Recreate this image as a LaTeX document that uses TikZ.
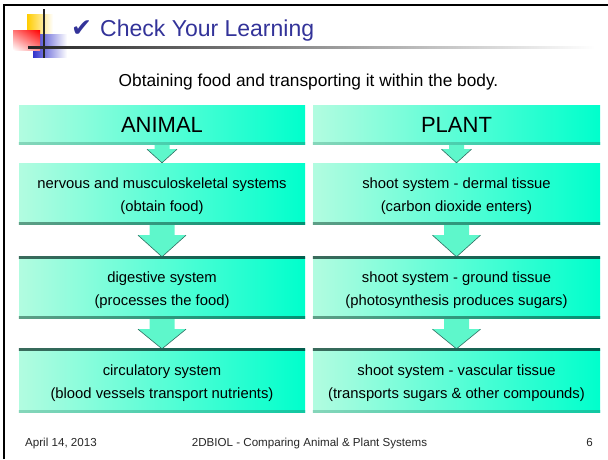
\documentclass[tikz,border=0pt]{standalone}
\usepackage{fontspec}
\setmainfont{Liberation Sans}
\newfontfamily\symfont{DejaVu Sans}
\usetikzlibrary{calc,shadings}
\definecolor{mintL}{HTML}{B2FCE0}
\definecolor{mintR}{HTML}{00FFCC}
\definecolor{edgeL}{HTML}{5E9E86}
\definecolor{edgeR}{HTML}{009274}
\definecolor{liteL}{HTML}{86D6BA}
\definecolor{liteR}{HTML}{10C8A2}
\definecolor{topL}{HTML}{3A6B5C}
\definecolor{topR}{HTML}{005E4E}
\definecolor{arrfill}{HTML}{5EF7CB}
\definecolor{arrline}{HTML}{2E6E60}
\definecolor{titleblue}{HTML}{333399}
\definecolor{logoY}{HTML}{FFCC00}
\definecolor{logoB}{HTML}{3333CC}
\newcommand\rowstrut{\rule{0pt}{16.5pt}}

\begin{document}
\begin{tikzpicture}[
  x=1pt, y=-1pt,
  box/.style={
    left color=mintL, right color=mintR,
    inner sep=0pt, align=center
  },
  head/.style={box, minimum height=39pt, font=\fontsize{22}{26}\selectfont},
  row/.style={box, font=\fontsize{14.8}{23}\selectfont},
  acol/.style={minimum width=286pt},
  pcol/.style={minimum width=287pt},
  txt/.style={inner sep=0pt},
  foot/.style={txt, anchor=base, text=black!85, font=\fontsize{11.6}{14}\selectfont},
  arr/.style={fill=arrfill},
  arredge/.style={draw=arrline, line width=0.6pt}
]
  \useasboundingbox (0,0) rectangle (608,459);
  \draw[line width=2pt] (4,459) -- (4,5) -- (608,5);

  \shade[left color=logoY, middle color=logoY, right color=white] (27,14) rectangle (53,40);
  \shade[left color=logoB, middle color=logoB, right color=white] (33,34) rectangle (67,57);
  \shade[upper left=red!55!white, upper right=red, lower left=white, lower right=red!45!white]
    (13,30) rectangle (40,50);
  \draw[line width=2pt, black!85] (43.5,9) -- (43.5,58);
  \shade[left color=black!85, middle color=black!45, right color=white] (28,46) rectangle (595,48.5);

  \node[txt, anchor=base west, text=titleblue, font=\symfont\fontsize{25}{25}\selectfont]
    (tick) at (71,36.5) {✔};
  \node[txt, anchor=base west, text=titleblue, font=\fontsize{23}{23}\selectfont]
    (title) at (100,36.5) {Check Your Learning};
  \node[txt, anchor=base, font=\fontsize{17.3}{20}\selectfont]
    (goal) at (308.5,86) {Obtaining food and transporting it within the body.};

  \node[head, acol] (an0) at (162,124.5) {ANIMAL};
  \node[row, acol, minimum height=61pt] (an1) at (162,193.5)
    {\rowstrut nervous and musculoskeletal systems\\(obtain food)};
  \node[row, acol, minimum height=61pt] (an2) at (162,287.5)
    {\rowstrut digestive system\\(processes the food)};
  \node[row, acol, minimum height=63pt] (an3) at (162,380.5)
    {\rowstrut circulatory system\\(blood vessels transport nutrients)};

  \node[head, pcol] (pl0) at (456.5,124.5) {PLANT};
  \node[row, pcol, minimum height=61pt] (pl1) at (456.5,193.5)
    {\rowstrut shoot system - dermal tissue\\(carbon dioxide enters)};
  \node[row, pcol, minimum height=61pt] (pl2) at (456.5,287.5)
    {\rowstrut shoot system - ground tissue\\(photosynthesis produces sugars)};
  \node[row, pcol, minimum height=63pt] (pl3) at (456.5,380.5)
    {\rowstrut shoot system - vascular tissue\\(transports sugars \& other compounds)};

  \foreach \a/\b/\s/\h/\l in {an0/an1/7.5/15/5, an1/an2/12.5/24/11, an2/an3/12.5/24/11,
                             pl0/pl1/7.5/15/5, pl1/pl2/12.5/24/11, pl2/pl3/12.5/24/11} {
    \fill[arr] ($(\a.south)+(-\s,0)$) -- ++(0,\l) -- ++({\s-\h},0) -- (\b.north)
      -- ($(\a.south)+(\h,\l)$) -- ++({\s-\h},0) -- ++(0,-\l) -- cycle;
    \draw[arredge] ($(\a.south)+(-\h,\l)$) -- (\b.north) -- ($(\a.south)+(\h,\l)$);
  }

  \foreach \n in {an1,an2,pl1,pl2} {
    \shade[left color=edgeL, right color=edgeR] (\n.south west) rectangle ($(\n.south east)+(0,-2)$);
  }
  \foreach \n in {an0,an3,pl0,pl3} {
    \shade[left color=liteL, right color=liteR] (\n.south west) rectangle ($(\n.south east)+(0,-2)$);
  }
  \foreach \n in {an2,an3,pl2,pl3} {
    \shade[left color=topL, right color=topR] (\n.north west) rectangle ($(\n.north east)+(0,1.5)$);
  }

  \node[foot, anchor=base west] (date) at (25,446.5) {April 14, 2013};
  \node[foot] (course) at (309.5,446.5) {2DBIOL - Comparing Animal \& Plant Systems};
  \node[foot, anchor=base east] (page) at (593,446.5) {6};
\end{tikzpicture}
\end{document}
